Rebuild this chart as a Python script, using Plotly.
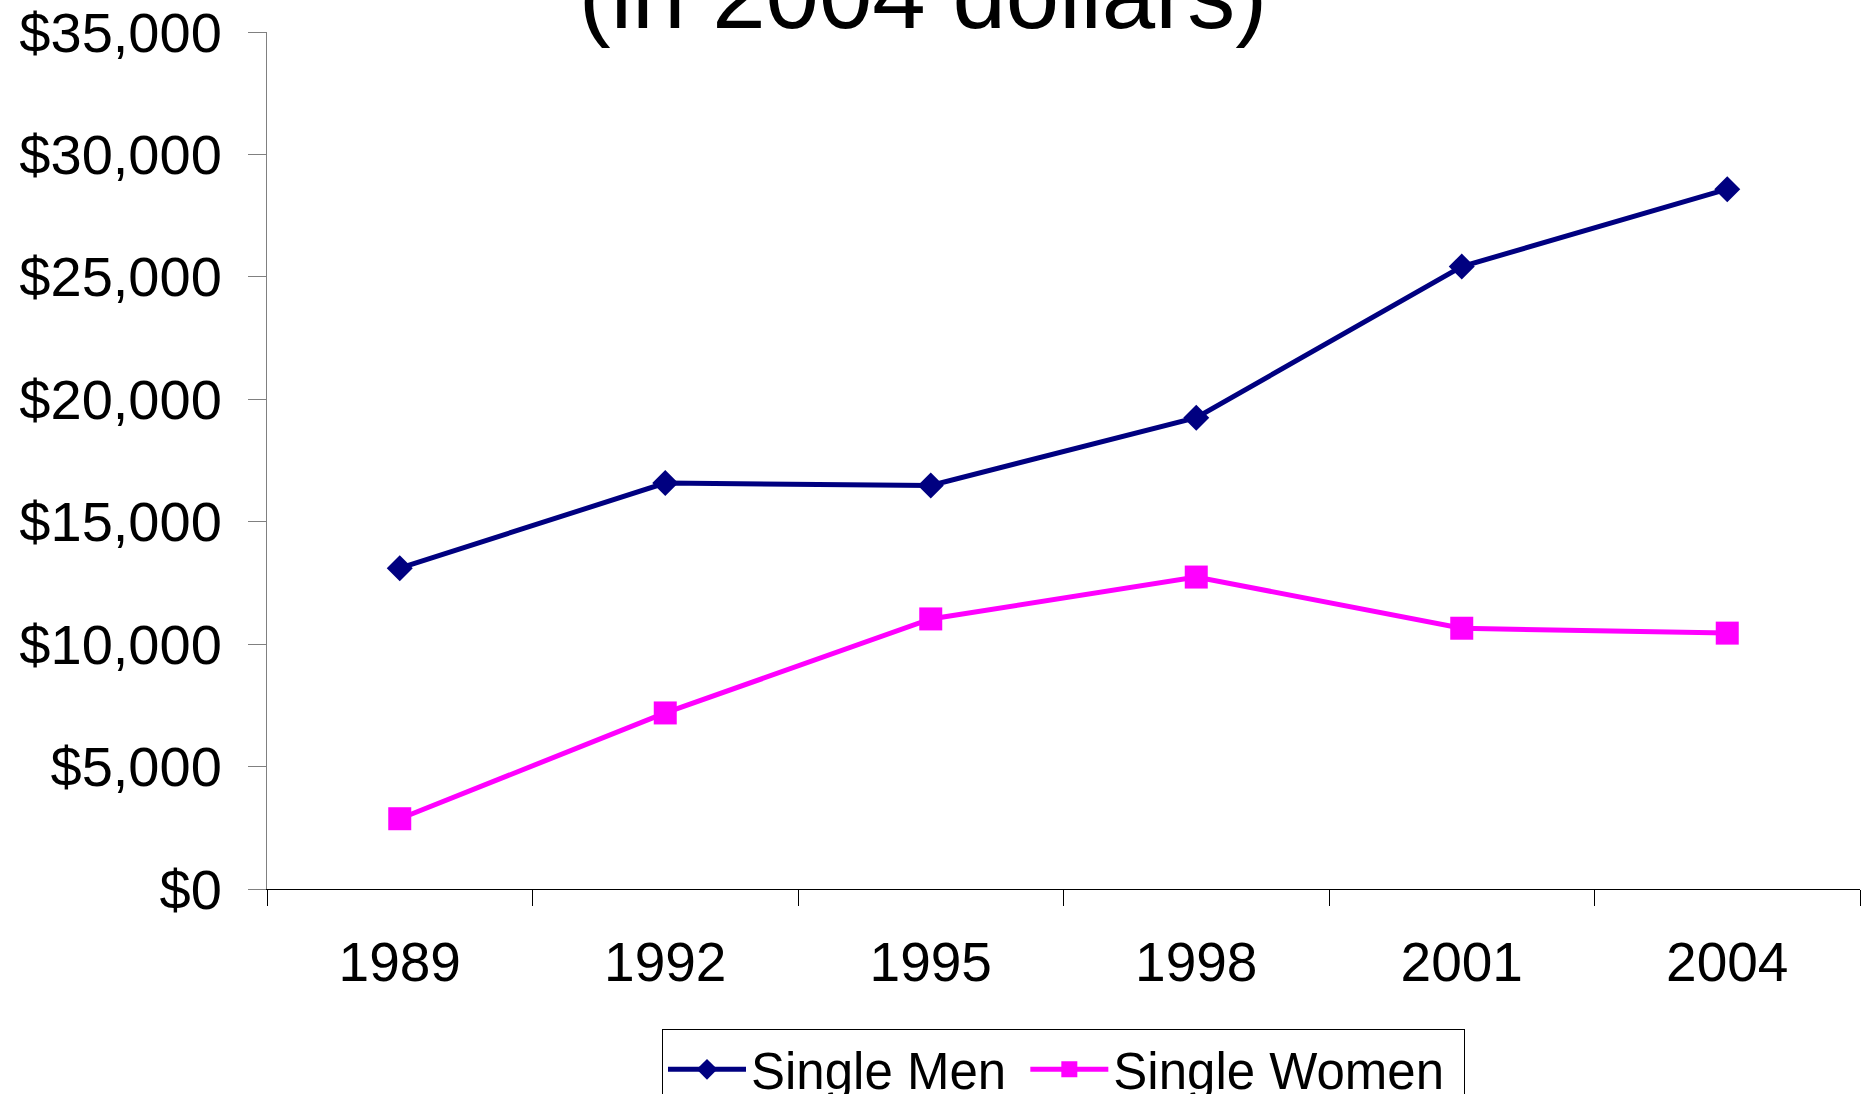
import plotly.graph_objects as go

years = ["1989", "1992", "1995", "1998", "2001", "2004"]
single_men = [13100, 16580, 16480, 19250, 25420, 28580]
single_women = [2870, 7190, 11030, 12740, 10650, 10450]
y_ticks = [0, 5000, 10000, 15000, 20000, 25000, 30000, 35000]
y_tick_labels = ["$0", "$5,000", "$10,000", "$15,000", "$20,000", "$25,000", "$30,000", "$35,000"]
title_text = "(in 2004 dollars)"

FONT = "Liberation Sans, Arial, sans-serif"

fig = go.Figure()
fig.add_trace(go.Scatter(
    x=years, y=single_men, name="Single Men\u00a0", mode="lines+markers",
    line=dict(color="#000080", width=5),
    marker=dict(symbol="diamond", size=20, color="#000080"),
))
fig.add_trace(go.Scatter(
    x=years, y=single_women, name="Single Women\u00a0", mode="lines+markers",
    line=dict(color="#FF00FF", width=5),
    marker=dict(symbol="square", size=23, color="#FF00FF"),
))

fig.update_layout(
    width=1867, height=1094,
    margin=dict(l=267, r=7, t=32, b=205, autoexpand=False),
    paper_bgcolor="white", plot_bgcolor="white",
    font=dict(family=FONT, color="black"),
    showlegend=True,
    title=dict(
        text=title_text, font=dict(size=96, family=FONT, color="black"),
        xref="container", x=923/1867, xanchor="center",
        yref="container", y=1 - 28/1094, yanchor="bottom",
        automargin=False,
    ),
    legend=dict(
        orientation="h", x=0.5, xanchor="center", y=-0.163, yanchor="top",
        font=dict(size=51, family=FONT, color="black"),
        bordercolor="black", borderwidth=1, bgcolor="white",
        itemwidth=78, tracegroupgap=0,
    ),
    xaxis=dict(
        type="category", range=[-0.5, 5.5], automargin=False,
        tickson="boundaries", ticks="outside", ticklen=16, tickcolor="black",
        showline=True, linecolor="black", linewidth=1,
        showgrid=False, zeroline=False,
        tickfont=dict(size=55, family=FONT, color="black"),
        ticklabelstandoff=25,
    ),
    yaxis=dict(
        range=[0, 35000], tickvals=y_ticks, ticktext=y_tick_labels, automargin=False,
        ticks="outside", ticklen=18, tickcolor="#808080",
        showline=True, linecolor="#808080", linewidth=1,
        showgrid=False, zeroline=False,
        tickfont=dict(size=56, family=FONT, color="black"),
        ticklabelstandoff=15,
    ),
)

fig.write_html(
    "out.html",
    config={"displayModeBar": False},
    post_script="document.body.style.margin='0';document.body.style.overflow='hidden';",
)
